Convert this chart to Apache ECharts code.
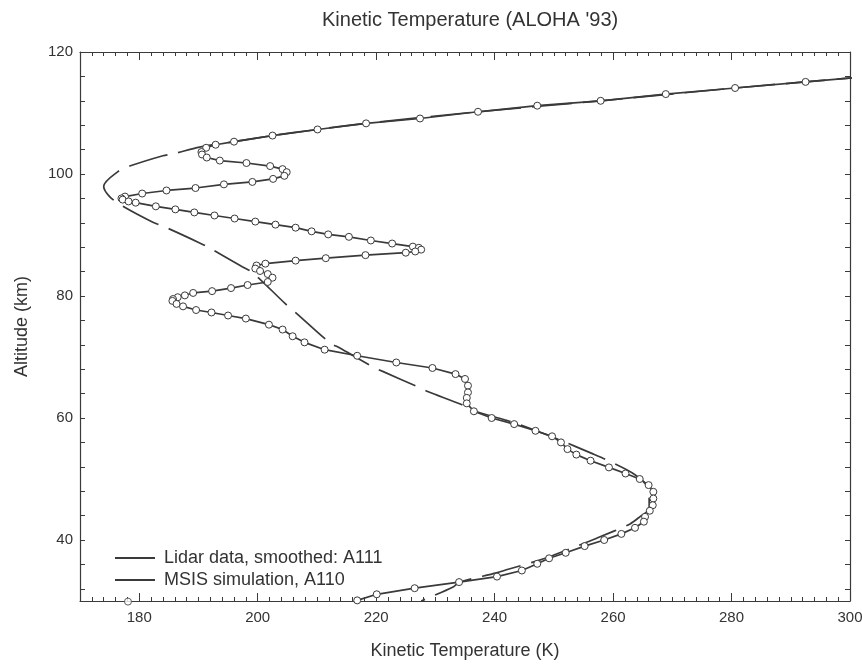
<!DOCTYPE html>
<html>
<head>
<meta charset="utf-8">
<script src="https://cdn.jsdelivr.net/npm/echarts@6/dist/echarts.min.js"></script>
<style>
html,body{margin:0;padding:0;background:#ffffff;}
#chart{width:862px;height:665px;}
</style>
</head>
<body>
<div id="chart"></div>
<script>
// ---- data (Temperature K, Altitude km) ----
const xTickLabels = [180, 200, 220, 240, 260, 280, 300];
const yTickLabels = [40, 60, 80, 100, 120];
const yTicks = [32, 36, 40, 44, 48, 52, 56, 60, 64, 68, 72, 76, 80, 84, 88, 92, 96, 100, 104, 108, 112, 116, 120];

const lidarName = 'Lidar data, smoothed: A111';
const msisName = 'MSIS simulation, A110';

const lidar = [
[304.5,116.1],[292.5,115.1],[280.6,114.1],[268.9,113.1],[257.9,112.0],[247.2,111.2],[237.2,110.2],
[227.4,109.1],[218.3,108.3],[210.1,107.3],[202.5,106.3],[196.0,105.3],[192.9,104.8],[191.3,104.3],
[190.5,103.6],[190.6,103.2],[191.4,102.7],[193.6,102.2],[198.1,101.8],[202.1,101.3],[204.2,100.8],
[204.9,100.3],[204.5,99.7],[202.6,99.2],[199.1,98.7],[194.3,98.3],[189.5,97.7],[184.6,97.3],
[180.5,96.8],[177.6,96.3],[177.0,96.0],[177.2,95.8],[178.2,95.5],[179.4,95.3],[182.8,94.7],
[186.1,94.2],[189.3,93.7],[192.7,93.2],[196.1,92.7],[199.6,92.2],[203.0,91.7],[206.4,91.2],
[209.1,90.6],[211.9,90.1],[215.4,89.7],[219.1,89.1],[222.7,88.6],[226.2,88.1],[227.2,87.9],
[227.6,87.6],[226.6,87.3],[225.0,87.1],[218.2,86.7],[211.5,86.2],[206.4,85.8],[201.3,85.3],
[199.8,85.0],[199.6,84.5],[200.4,84.1],[201.7,83.6],[202.5,83.0],[201.7,82.3],[198.3,81.8],
[195.5,81.3],[192.3,80.8],[189.1,80.5],[187.7,80.1],[186.5,79.8],[185.7,79.5],[185.6,79.2],
[186.3,78.7],[187.4,78.3],[189.6,77.7],[192.2,77.3],[195.0,76.8],[198.0,76.3],[201.9,75.3],
[204.2,74.5],[205.9,73.4],[207.9,72.4],[211.3,71.2],[216.8,70.2],[223.4,69.1],[229.5,68.2],
[233.4,67.2],[235.0,66.4],[235.5,65.3],[235.5,64.2],[235.3,63.3],[235.3,62.4],[236.5,61.1],
[239.5,60.0],[243.3,59.0],[246.9,57.9],[249.7,57.0],[251.2,56.0],[252.3,54.9],[253.8,54.0],
[256.2,53.0],[259.3,51.9],[262.1,50.9],[264.5,50.0],[266.0,49.0],[266.8,47.9],[266.8,46.8],
[266.7,45.7],[266.2,44.8],[265.4,43.8],[265.2,43.0],[263.7,42.0],[261.4,41.0],[258.5,40.0],
[255.2,39.0],[252.0,37.9],[249.2,37.0],[247.2,36.1],[244.6,35.0],[240.4,34.0],[234.0,33.1],
[226.5,32.1],[220.1,31.1],[216.8,30.1]
];

const lidarStray = [[178.1, 29.9]];

const msis = [
[304.5,116.1],[280.6,114.1],[257.9,112.0],[237.2,110.2],[218.3,108.3],[210.1,107.3],[202.5,106.3],
[196.0,105.3],[190.2,104.4],[185.7,103.3],[184.0,103.0],[178.4,101.3],[176.4,100.4],[174.0,98.0],
[175.0,96.3],[177.1,94.8],[182.3,92.1],[184.6,91.2],[190.2,88.7],[191.8,87.9],[197.4,84.8],
[199.2,83.8],[204.7,78.7],[206.5,77.2],[212.1,72.4],[213.8,71.5],[219.4,68.4],[221.2,67.6],
[226.8,65.2],[228.8,64.3],[234.4,62.2],[236.1,61.3],[241.7,59.7],[243.4,59.2],[248.9,57.2],
[251.0,56.4],[256.4,54.2],[258.3,53.4],[263.7,50.7],[266.0,48.2],[266.1,45.2],[264.5,43.8],
[262.8,42.6],[257.5,40.4],[255.2,39.5],[249.9,37.5],[247.6,36.7],[242.3,35.2],[240.3,34.6],
[234.1,33.1],[233.0,32.3],[227.6,30.0]
];

// ---- chart ----
const ink = '#3a3a3a';
const font = 'Liberation Sans, Arial, Helvetica, sans-serif';
const chart = echarts.init(document.getElementById('chart'), null, {renderer: 'canvas'});

function xAx(pos, major, withLabels) {
  const a = {
    type: 'value', min: 170, max: 300, position: pos,
    axisLine: {show: true, onZero: false, lineStyle: {color: ink, width: 1.2}},
    splitLine: {show: false},
    axisTick: {show: true, inside: true, length: major ? 8 : 4, lineStyle: {color: ink, width: 1}},
    axisLabel: {show: false}
  };
  if (major) {
    a.axisTick.customValues = xTickLabels;
    a.axisLabel = withLabels ? {show: true, customValues: xTickLabels, fontSize: 15, color: '#333', fontFamily: font, margin: 9} : {show: false, customValues: xTickLabels};
  } else {
    a.interval = 2;
    a.axisLine.show = false;
  }
  return a;
}
function yAx(pos, withLabels) {
  return {
    type: 'value', min: 30, max: 120, position: pos,
    axisLine: {show: true, onZero: false, lineStyle: {color: ink, width: 1.2}},
    splitLine: {show: false},
    axisTick: {show: true, inside: true, length: 5, customValues: yTicks, lineStyle: {color: ink, width: 1}},
    axisLabel: withLabels ? {show: true, customValues: yTickLabels, fontSize: 15, color: '#333', fontFamily: font, margin: 7} : {show: false, customValues: yTickLabels}
  };
}

const xMain = xAx('bottom', true, true);
xMain.name = 'Kinetic Temperature (K)';
xMain.nameLocation = 'middle';
xMain.nameGap = 41;
xMain.nameTextStyle = {fontSize: 18, color: '#333', fontFamily: font};

const yMain = yAx('left', true);
yMain.name = 'Altitude (km)';
yMain.nameLocation = 'middle';
yMain.nameGap = 49;
yMain.nameTextStyle = {fontSize: 18, color: '#333', fontFamily: font};

chart.setOption({
  animation: false,
  backgroundColor: '#ffffff',
  title: {
    text: "Kinetic Temperature (ALOHA '93)",
    left: 317, top: 5,
    textStyle: {fontSize: 20, fontWeight: 'normal', color: '#333', fontFamily: font}
  },
  grid: {left: 80, right: 12, top: 52, bottom: 64, containLabel: false, outerBoundsMode: 'none'},
  legend: {
    left: 110, top: 544, orient: 'vertical', itemGap: 4,
    itemWidth: 40, itemHeight: 2, icon: 'rect',
    itemStyle: {color: ink, borderWidth: 0},
    textStyle: {fontSize: 18, color: '#333', fontFamily: font, padding: [0, 0, 0, 4]},
    data: [lidarName, msisName]
  },
  xAxis: [xMain, xAx('bottom', false), xAx('top', true, false), xAx('top', false)],
  yAxis: [yMain, yAx('right', false)],
  series: [
    {
      name: msisName, type: 'line', data: msis, xAxisIndex: 0, yAxisIndex: 0,
      showSymbol: false, symbol: 'none', smooth: 0.3,
      lineStyle: {color: ink, width: 1.7, type: [40, 11]},
      itemStyle: {color: ink}
    },
    {
      name: lidarName, type: 'line', data: lidar, xAxisIndex: 0, yAxisIndex: 0,
      symbol: 'circle', symbolSize: 7, showSymbol: true,
      lineStyle: {color: ink, width: 1.7},
      itemStyle: {color: '#ffffff', borderColor: ink, borderWidth: 1}
    },
    {
      name: 'stray', type: 'scatter', data: lidarStray, xAxisIndex: 0, yAxisIndex: 0,
      clip: false, symbol: 'circle', symbolSize: 7,
      itemStyle: {color: '#ffffff', borderColor: ink, borderWidth: 1}
    }
  ]
});
</script>
</body>
</html>
